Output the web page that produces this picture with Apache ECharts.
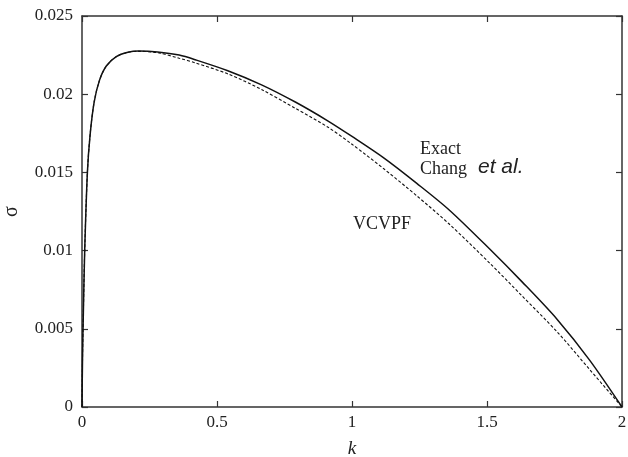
<!DOCTYPE html>
<html>
<head>
<meta charset="utf-8">
<script src="https://cdn.jsdelivr.net/npm/echarts@6/dist/echarts.min.js"></script>
<style>
  html, body { margin: 0; padding: 0; background: #fff; }
  #main { width: 628px; height: 457px; }
</style>
</head>
<body>
<div id="main"></div>
<script>
  // values
  var kExact = [0, 0.002, 0.005, 0.01, 0.02, 0.03, 0.045, 0.065, 0.09, 0.127, 0.17, 0.21, 0.28, 0.36, 0.42, 0.54, 0.665, 0.79, 0.91, 1.0, 1.12, 1.24, 1.36, 1.51, 1.63, 1.76, 1.88, 2.0];
  var sigmaExact = [0, 0.0032, 0.0060, 0.0100, 0.0150, 0.0174, 0.0195, 0.0209, 0.0218, 0.0224, 0.02268, 0.02276, 0.0227, 0.0225, 0.0222, 0.0215, 0.0206, 0.0195, 0.0183, 0.0173, 0.0159, 0.0143, 0.0126, 0.0101, 0.0080, 0.0056, 0.0030, 0];
  var kVcvpf = [0, 0.002, 0.005, 0.01, 0.02, 0.03, 0.045, 0.065, 0.09, 0.127, 0.17, 0.21, 0.28, 0.36, 0.42, 0.54, 0.665, 0.79, 0.91, 1.0, 1.12, 1.24, 1.36, 1.51, 1.63, 1.76, 1.88, 2.0];
  var sigmaVcvpf = [0, 0.0032, 0.0060, 0.0100, 0.0150, 0.0174, 0.0195, 0.0209, 0.0218, 0.0224, 0.02268, 0.02274, 0.02265, 0.0223, 0.0220, 0.0213, 0.0203, 0.0191, 0.0179, 0.0168, 0.0152, 0.0135, 0.0117, 0.0092, 0.0071, 0.0048, 0.0024, 0];
  var xTicks = [0, 0.5, 1, 1.5, 2];
  var yTicks = [0, 0.005, 0.01, 0.015, 0.02, 0.025];

  function pairs(xs, ys) {
    return xs.map(function (x, i) { return [x, ys[i]]; });
  }

  var serif = '"Liberation Serif", "Times New Roman", serif';
  var ink = '#222';
  var frame = { show: true, onZero: false, lineStyle: { color: '#333', width: 1.5 } };
  var ticks = { show: true, inside: true, length: 6, lineStyle: { color: '#333', width: 1.2 } };

  var myChart = echarts.init(document.getElementById('main'));
  var option = {
    animation: false,
    backgroundColor: '#fff',
    grid: { left: 82, right: 6, top: 16, bottom: 50, containLabel: false, outerBoundsMode: 'none' },
    xAxis: [
      {
        type: 'value', min: xTicks[0], max: xTicks[xTicks.length - 1], interval: 0.5,
        name: 'k', nameLocation: 'middle', nameGap: 32,
        nameTextStyle: { fontFamily: serif, fontStyle: 'italic', fontSize: 19, color: ink },
        axisLine: frame, axisTick: ticks, splitLine: { show: false },
        axisLabel: { fontFamily: serif, fontSize: 17, color: ink, margin: 7 }
      },
      {
        type: 'value', position: 'top', min: xTicks[0], max: xTicks[xTicks.length - 1], interval: 0.5,
        axisLine: frame, axisTick: ticks, splitLine: { show: false }, axisLabel: { show: false }
      }
    ],
    yAxis: [
      {
        type: 'value', min: yTicks[0], max: yTicks[yTicks.length - 1], interval: 0.005,
        name: 'σ', nameLocation: 'middle', nameGap: 60, nameRotate: 90,
        nameTextStyle: { fontFamily: serif, fontSize: 20, color: ink },
        axisLine: frame, axisTick: ticks, splitLine: { show: false },
        axisLabel: { fontFamily: serif, fontSize: 17, color: ink, margin: 9 }
      },
      {
        type: 'value', position: 'right', min: yTicks[0], max: yTicks[yTicks.length - 1], interval: 0.005,
        axisLine: frame, axisTick: ticks, splitLine: { show: false }, axisLabel: { show: false }
      }
    ],
    series: [
      {
        name: 'VCVPF', type: 'line', showSymbol: false, smooth: 0.3,
        data: pairs(kVcvpf, sigmaVcvpf),
        lineStyle: { color: '#111', width: 1.1, type: [3, 2] }
      },
      {
        name: 'Exact', type: 'line', showSymbol: false, smooth: 0.3,
        data: pairs(kExact, sigmaExact),
        lineStyle: { color: '#111', width: 1.5 }
      }
    ],
    graphic: [
      { type: 'text', left: 420, top: 140, style: { text: 'Exact', font: '18px ' + serif, fill: ink } },
      { type: 'text', left: 420, top: 160, style: { text: 'Chang', font: '18px ' + serif, fill: ink } },
      { type: 'text', left: 478, top: 157, style: { text: 'et al.', font: 'italic 21px "Liberation Sans", Arial, sans-serif', fill: ink } },
      { type: 'text', left: 353, top: 215, style: { text: 'VCVPF', font: '18px ' + serif, fill: ink } }
    ]
  };
  myChart.setOption(option);
</script>
</body>
</html>
